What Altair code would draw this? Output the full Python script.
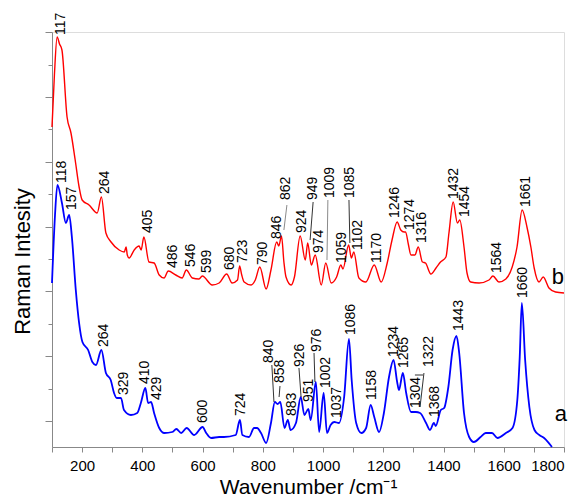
import altair as alt
import pandas as pd

# ---- spectrum b (red) ----
red_wn = [100, 108, 117, 125, 133, 150, 163, 177, 190, 200, 223, 250, 264, 279, 296, 323, 340, 346, 350, 356,
          373, 389, 396, 405, 422, 439, 456, 472, 486, 511, 532, 546, 566, 588, 599, 632, 655, 680, 698, 716,
          723, 730, 738, 761, 775, 790, 811, 827, 846, 853, 862, 870, 877, 894, 905, 924, 941, 949, 961, 974,
          994, 1009, 1027, 1045, 1059, 1066, 1085, 1094, 1102, 1119, 1142, 1170, 1193, 1213, 1229, 1246, 1258,
          1269, 1274, 1283, 1292, 1305, 1316, 1330, 1340, 1358, 1375, 1390, 1408, 1418, 1432, 1446, 1454, 1468,
          1478, 1490, 1518, 1551, 1564, 1584, 1607, 1628, 1644, 1661, 1677, 1690, 1701, 1717, 1731, 1750, 1772, 1800]
red_int = [320, 372, 410, 403, 397, 330, 314, 287, 260, 247, 242, 234, 250, 214, 205, 197, 195, 200, 192, 189,
           197, 201, 197, 210, 185, 184, 172, 169, 176, 172, 169, 177, 169, 168, 171, 162, 164, 173, 164, 167,
           181, 172, 165, 162, 167, 180, 158, 177, 205, 201, 211, 185, 170, 162, 170, 211, 187, 204, 182, 192,
           162, 184, 164, 170, 182, 178, 202, 189, 195, 169, 165, 182, 165, 184, 207, 225, 217,
           215, 215, 203, 192, 192, 200, 185, 184, 173, 179, 185, 190, 214, 245, 224, 227, 200,
           174, 165, 164, 167, 171, 165, 168, 180, 200, 237, 220, 200, 179, 165, 170, 159, 155, 154]

# ---- spectrum a (blue) ----
blue_wn = [100, 110, 118, 133, 146, 157, 166, 179, 190, 201, 220, 234, 246, 264, 279, 295, 306, 315, 329, 339,
           362, 383, 395, 410, 419, 429, 439, 456, 473, 499, 513, 529, 547, 572, 600, 612, 628, 655, 671, 710,
           724, 732, 754, 771, 781, 794, 811, 827, 840, 849, 858, 872, 883, 892, 910, 926, 938, 951, 959, 976,
           987, 1002, 1013, 1025, 1037, 1053, 1070, 1086, 1095, 1110, 1127, 1143, 1158, 1170, 1186, 1202, 1219,
           1234, 1246, 1252, 1265, 1276, 1292, 1308, 1322, 1342, 1355, 1368, 1374, 1391, 1402, 1416, 1430, 1443,
           1452, 1468, 1485, 1501, 1523, 1540, 1561, 1579, 1607, 1629, 1645, 1653, 1660, 1671, 1685, 1702, 1718,
           1734, 1760]
blue_int = [164, 232, 262, 244, 224, 232, 210, 157, 124, 105, 97, 85, 82, 97, 74, 67, 54, 49, 49, 37,
            32, 34, 44, 59, 44, 45, 34, 19, 14, 15, 18, 14, 19, 12, 20, 14, 9, 10, 10, 12,
            27, 12, 10, 19, 19, 14, 4, 24, 45, 43, 45, 19, 27, 17, 24, 50, 32, 38, 27, 65,
            15, 54, 14, 22, 25, 24, 50, 108, 67, 24, 14, 19, 42, 30, 15, 34, 70,
            87, 65, 57, 74, 54, 35, 35, 34, 24, 17, 24, 21, 37, 39, 60, 97, 111,
            94, 34, 10, 5, 10, 14, 14, 9, 14, 19, 47, 90, 144, 87, 40, 17, 12,
            9, 0]

# ---- peak labels ----
red_lbl = ["117", "264", "405", "486", "546", "599", "680", "723", "790", "846", "862", "924", "949", "974",
           "1009", "1059", "1085", "1102", "1170", "1246", "1274", "1316", "1432", "1454", "1564", "1661"]
red_lbl_wn = [130, 276, 419, 502, 562, 615, 691, 734, 801, 847, 877, 930, 967, 987,
              1023, 1063, 1089, 1116, 1179, 1239, 1289, 1329, 1435, 1471, 1578, 1674]
red_lbl_int = [412, 253, 214, 179, 180, 174, 177, 184, 182, 208, 247, 214, 247, 194,
               249, 184, 249, 197, 184, 229, 217, 204, 248, 230, 174, 240]

blue_lbl = ["118", "157", "264", "329", "410", "429", "600", "724", "840", "858", "883", "926", "951", "976",
            "1002", "1037", "1086", "1158", "1234", "1265", "1304", "1322", "1368", "1443", "1660"]
blue_lbl_wn = [133, 166, 273, 339, 409, 449, 601, 728, 820, 857, 897, 923, 953, 980,
               1010, 1046, 1093, 1163, 1236, 1269, 1309, 1352, 1372, 1451, 1664]
blue_lbl_int = [264, 237, 100, 52, 63, 47, 24, 31, 84, 64, 31, 80, 45, 95,
                59, 29, 112, 47, 90, 79, 39, 80, 30, 116, 149]

# ---- leader lines ----
lead_wn = [880, 967, 1016, 1086, 830, 857, 920, 970, 1335, 1305]
lead_wn2 = [870, 957, 1013, 1089, 837, 854, 927, 973, 1322, 1332]
lead_int = [242, 245, 247, 247, 82, 61, 79, 94, 74, 72]
lead_int2 = [217, 207, 187, 204, 45, 50, 50, 65, 40, 72]
lead_col = ["#8a8a8a", "#333333", "#8a8a8a", "#333333", "#333333", "#333333", "#333333", "#333333", "#333333", "#333333"]

# ---- curve names ----
curve_txt = ["b", "a"]
curve_wn = [1780, 1790]
curve_int = [170, 33]

red = pd.DataFrame({"wn": red_wn, "v": red_int})
blue = pd.DataFrame({"wn": blue_wn, "v": blue_int})
lbl = pd.DataFrame({"t": red_lbl + blue_lbl, "wn": red_lbl_wn + blue_lbl_wn, "v": red_lbl_int + blue_lbl_int})
lead = pd.DataFrame({"wn": lead_wn, "wn2": lead_wn2, "v": lead_int, "v2": lead_int2, "c": lead_col})
names = pd.DataFrame({"t": curve_txt, "wn": curve_wn, "v": curve_int})

FONT = "Liberation Sans"
all_ticks = [round(25.93 + 32.415 * k, 3) for k in range(13)]

xscale = alt.Scale(domain=[100, 1800], nice=False, zero=False)
yscale = alt.Scale(domain=[0, 415], nice=False, zero=False)

xaxis = alt.Axis(
    values=list(range(100, 1801, 100)),
    labelExpr="datum.value % 200 == 0 ? datum.label : ''",
    title="Wavenumber /cm⁻¹",
    tickSize=5, labelPadding=6, labelFontSize=15,
    titleFontSize=21, titleFontWeight="normal", titleY=46, titleBaseline="alphabetic",
    grid=False, format="d",
)
yaxis = alt.Axis(
    values=all_ticks, labels=False, grid=False,
    tickSize={"condition": {"test": "abs((datum.value - 25.93) / 64.83 - round((datum.value - 25.93) / 64.83)) < 0.1", "value": 7}, "value": 4},
    title="Raman Intesity", titleFontSize=22, titleFontWeight="normal", titleAngle=270,
    titleX=-30, titleY=229, titleAlign="center", titleBaseline="middle",
)

X = alt.X("wn:Q", scale=xscale, axis=xaxis)
Y = alt.Y("v:Q", scale=yscale, axis=yaxis)

red_line = alt.Chart(red).mark_line(color="#ff0000", strokeWidth=1.4, interpolate="monotone").encode(x=X, y=Y)
blue_line = alt.Chart(blue).mark_line(color="#0000ff", strokeWidth=1.8, interpolate="monotone").encode(x=X, y=Y)
leaders = alt.Chart(lead).mark_rule(strokeWidth=1).encode(
    x=X, y=Y, x2="wn2:Q", y2="v2:Q", color=alt.Color("c:N", scale=None))
labels = alt.Chart(lbl).mark_text(angle=270, align="left", baseline="middle", font=FONT,
                                  fontSize=14, color="black").encode(x=X, y=Y, text="t:N")
name_txt = alt.Chart(names).mark_text(align="center", baseline="middle", font=FONT,
                                      fontSize=22, color="black").encode(x=X, y=Y, text="t:N")

chart = alt.layer(red_line, blue_line, leaders, labels, name_txt).properties(
    width=512, height=415,
    autosize=alt.AutoSizeParams(type="none"),
    padding={"left": 44, "top": 24, "right": 10, "bottom": 52},
).configure_view(stroke="transparent").configure_axis(
    domainColor="black", domainWidth=1.6, tickColor="black", tickWidth=1.5,
    labelFont=FONT, labelColor="black", titleFont=FONT, titleColor="black",
    titleFontWeight="normal",
).configure(background="white")

chart.save("out.html", embed_options={"renderer": "svg", "actions": False})
